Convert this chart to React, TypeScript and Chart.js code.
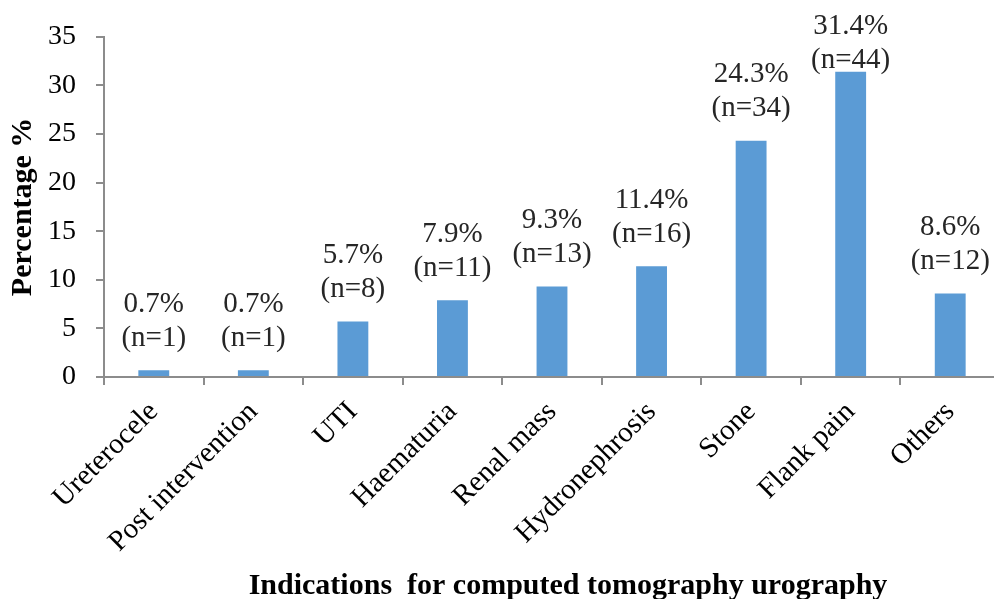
import React, { useEffect, useRef } from "react";
import { Chart, registerables } from "chart.js";

Chart.register(...registerables);

const categories = [
  "Ureterocele",
  "Post intervention",
  "UTI",
  "Haematuria",
  "Renal mass",
  "Hydronephrosis",
  "Stone",
  "Flank pain",
  "Others",
];
const percentages = [0.7, 0.7, 5.7, 7.9, 9.3, 11.4, 24.3, 31.4, 8.6];
const counts = [1, 1, 8, 11, 13, 16, 34, 44, 12];
const yTicks = [0, 5, 10, 15, 20, 25, 30, 35];
const yTitle = "Percentage %";
const xTitle = "Indications  for computed tomography urography";

const FONT = "'Liberation Serif', 'Times New Roman', serif";
const AXIS_COLOR = "#8c8c8c";
const BAR_COLOR = "#5b9bd5";

export default function App() {
  const ref = useRef<HTMLCanvasElement | null>(null);

  useEffect(() => {
    if (!ref.current) return;
    const labelPlugin = {
      id: "labels",
      afterDatasetsDraw(chart: any) {
        const ctx = chart.ctx;
        const meta = chart.getDatasetMeta(0);
        ctx.save();
        ctx.fillStyle = "#262626";
        ctx.font = `29px ${FONT}`;
        ctx.textAlign = "center";
        ctx.textBaseline = "middle";
        meta.data.forEach((el: any, i: number) => {
          const line2 = Math.max(el.y - 32, chart.chartArea.top + 24);
          const line1 = line2 - 34;
          ctx.fillText(`${percentages[i]}%`, el.x, line1);
          ctx.fillText(`(n=${counts[i]})`, el.x, line2);
        });
        // axis titles
        const area = chart.chartArea;
        ctx.fillStyle = "#000";
        ctx.font = `bold 30px ${FONT}`;
        ctx.textAlign = "center";
        ctx.textBaseline = "middle";
        ctx.fillText(xTitle, (area.left + area.right) / 2 + 16, 586);
        ctx.translate(23, (area.top + area.bottom) / 2);
        ctx.rotate(-Math.PI / 2);
        ctx.fillText(yTitle, 0, 0);
        ctx.restore();
      },
    };

    const chart = new Chart(ref.current, {
      type: "bar",
      data: {
        labels: categories,
        datasets: [
          {
            data: percentages,
            backgroundColor: BAR_COLOR,
            categoryPercentage: 1,
            barPercentage: 0.31,
          },
        ],
      },
      options: {
        responsive: false,
        animation: false,
        devicePixelRatio: 1,
        layout: { padding: { top: 34, left: 0, right: 4, bottom: 0 } },
        plugins: {
          legend: { display: false },
          tooltip: { enabled: false },
        },
        scales: {
          x: {
            offset: true,
            grid: {
              offset: true,
              drawOnChartArea: false,
              drawTicks: true,
              tickLength: 8,
              color: AXIS_COLOR,
              lineWidth: 2,
            },
            border: { color: AXIS_COLOR, width: 2 },
            ticks: {
              color: "#000",
              font: { family: FONT, size: 29 },
              minRotation: 45,
              maxRotation: 45,
              padding: 10,
              autoSkip: false,
            },
            afterFit(scale: any) {
              scale.height = 222;
            },
          },
          y: {
            min: 0,
            max: 35,
            afterBuildTicks(scale: any) {
              scale.ticks = yTicks.map((v) => ({ value: v }));
            },
            grid: {
              drawOnChartArea: false,
              drawTicks: true,
              tickLength: 8,
              color: AXIS_COLOR,
              lineWidth: 2,
            },
            border: { color: AXIS_COLOR, width: 2 },
            ticks: {
              color: "#000",
              font: { family: FONT, size: 28 },
              padding: 20,
            },
            afterFit(scale: any) {
              scale.width = 104;
            },
          },
        },
      },
      plugins: [labelPlugin],
    });
    return () => chart.destroy();
  }, []);

  return (
    <div
      style={{
        position: "fixed",
        left: 0,
        top: 0,
        width: 994,
        height: 599,
        overflow: "hidden",
        background: "#fff",
      }}
    >
      <canvas
        ref={ref}
        width={1004}
        height={599}
        style={{ width: 1004, height: 599, display: "block" }}
      />
    </div>
  );
}
